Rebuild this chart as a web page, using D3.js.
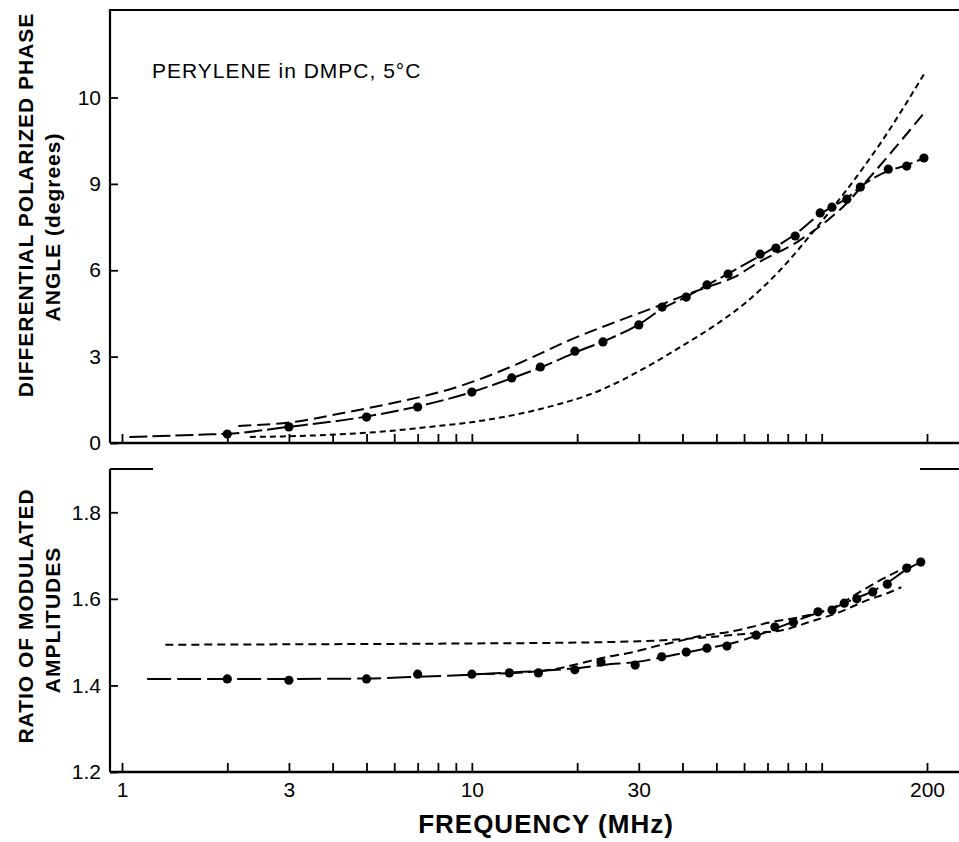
<!DOCTYPE html>
<html lang="en">
<head>
<meta charset="UTF-8">
<title>Perylene in DMPC, 5°C</title>
<script src="https://d3js.org/d3.v7.min.js"></script>
<style>
    html,body{margin:0;padding:0;background:#fff;}
    svg{display:block;}
    text{font-family:"Liberation Sans",Arial,sans-serif;fill:#000;}
</style>
</head>
<body>
<div id="chart"></div>
<script>
// x axis (MHz, log)
const freqTicks = [1,2,3,4,5,6,7,8,9,10,20,30,40,50,60,70,80,90,100,200];
const freqLabelTicks = [1,3,10,30,200];
const freqLabels = ["1","3","10","30","200"];

// y axis ticks (labels as printed)
const phaseTicks = [0,3,6,9,12];
const phaseTickLabels = ["0","3","6","9","10"];
const ratioTicks = [1.2,1.4,1.6,1.8];
const ratioTickLabels = ["1.2","1.4","1.6","1.8"];

// top panel: measured phase angle (degrees)
const phaseFreq = [2,3,5,7,10,13,15.7,19.7,23.7,30,35,41,47,54,66.7,74,84,99,107,118,129,155,175,196];
const phaseDeg  = [0.31,0.56,0.90,1.25,1.77,2.26,2.64,3.19,3.51,4.10,4.72,5.07,5.49,5.87,6.56,6.77,7.19,7.99,8.19,8.47,8.89,9.51,9.62,9.90];

// top panel: curve through the points
const phaseFitFreq = [1.05,1.8,2,3,5,7,10,13,16,20,24,30,35,41,47,54,67,74,84,99,107,118,129,155,175,196];
const phaseFitDeg  = [0.21,0.30,0.32,0.56,0.92,1.27,1.77,2.25,2.66,3.17,3.55,4.12,4.66,5.08,5.48,5.88,6.52,6.82,7.25,7.95,8.20,8.50,8.90,9.45,9.65,9.90];

// top panel: long dashed curve
const phaseAFreq = [2.15,3.17,4.28,5.95,8.28,11,13.7,19.1,26.6,32.3,40,48,56,65.4,85,104,115,135,160,196];
const phaseADeg  = [0.59,0.75,1.04,1.39,1.80,2.30,2.78,3.58,4.27,4.65,5.10,5.45,5.75,6.25,6.98,7.74,8.20,9.13,10.17,11.46];

// top panel: short dashed curve
const phaseCFreq = [2.32,2.88,3.85,5.35,7.45,11,15.7,23.7,29.6,39.4,49,61,76,94,118,147,197];
const phaseCDeg  = [0.21,0.23,0.28,0.38,0.55,0.80,1.18,1.87,2.45,3.33,4.05,4.90,6.00,7.30,8.80,10.40,12.85];

// bottom panel: measured ratio of modulated amplitudes
const ratioFreq = [2,3,5,7,10,12.8,15.5,19.7,23.4,29.3,34.9,41,47,53.6,65,73.5,83,97.6,107,116,126,140,154,175,192];
const ratioVal  = [1.415,1.412,1.415,1.426,1.426,1.429,1.429,1.436,1.454,1.447,1.466,1.477,1.486,1.491,1.516,1.535,1.546,1.570,1.574,1.590,1.600,1.616,1.634,1.671,1.685];

// bottom panel: curve through the points
const ratioFitFreq = [1.18,2,3,5,7,10,13,16,20,24,30,35,41,47,54,65,74,83,98,107,116,126,140,154,175,192];
const ratioFitVal  = [1.415,1.415,1.415,1.416,1.420,1.425,1.430,1.434,1.440,1.448,1.455,1.465,1.476,1.486,1.495,1.515,1.532,1.547,1.568,1.577,1.590,1.602,1.618,1.637,1.668,1.685];

// bottom panel: medium dashed curve
const ratioAFreq = [10,14,17.1,20.4,24.4,28.9,33,39.4,44.9,54.7,64.5,69.6,86.7,108,131,147,168,185];
const ratioAVal  = [1.426,1.430,1.437,1.451,1.466,1.477,1.489,1.503,1.514,1.524,1.537,1.544,1.558,1.580,1.620,1.643,1.667,1.683];

// bottom panel: short dashed curve
const ratioCFreq = [1.33,3,10,20,30,40,50,60,77.6,92.7,113,135,154,169];
const ratioCVal  = [1.494,1.495,1.497,1.499,1.502,1.507,1.513,1.519,1.528,1.547,1.570,1.597,1.613,1.627];

const W = 959, H = 842;
const frameL = 110, frameR = 959;

const svg = d3.select("#chart").append("svg")
    .attr("width", W).attr("height", H);

const x = d3.scaleLog().domain([1,200]).range([122,927]);
const yPhase = d3.scaleLinear().domain([0,15.04]).range([443,10]);
const yRatio = d3.scaleLinear().domain([1.2,1.9]).range([772,469]);

function zip(fs, vs){ return fs.map((f,i)=>[f, vs[i]]); }

function drawCurve(g, y, fs, vs, dash){
    const line = d3.line()
        .x(d=>x(d[0])).y(d=>y(d[1]))
        .curve(d3.curveMonotoneX);
    g.append("path")
        .attr("d", line(zip(fs,vs)))
        .attr("fill","none")
        .attr("stroke","#000")
        .attr("stroke-width",2)
        .attr("stroke-dasharray",dash);
}

function drawDots(g, y, fs, vs){
    g.selectAll("circle.pt").data(zip(fs,vs)).enter()
        .append("circle").attr("class","pt")
        .attr("cx",d=>x(d[0])).attr("cy",d=>y(d[1]))
        .attr("r",4.6).attr("fill","#000");
}

function styleAxis(g){
    g.select(".domain").remove();
    g.selectAll("line").attr("stroke","#000").attr("stroke-width",1.8);
    g.selectAll("text").attr("font-size",21).attr("fill","#000")
        .attr("font-family",'"Liberation Sans",Arial,sans-serif');
}

// ---------- top panel ----------
const topPanel = svg.append("g");
const yT0 = yPhase.range()[0], yT1 = yPhase.range()[1];

topPanel.append("path")
    .attr("d", "M"+frameL+","+yT0+"V"+yT1+"H"+frameR)
    .attr("fill","none").attr("stroke","#000").attr("stroke-width",2.2);
topPanel.append("line")
    .attr("x1",frameL).attr("x2",frameR).attr("y1",yT0).attr("y2",yT0)
    .attr("stroke","#000").attr("stroke-width",2.4);

topPanel.append("g").attr("transform","translate(0,"+yT0+")")
    .call(d3.axisBottom(x).tickValues(freqTicks).tickFormat("").tickSizeInner(-9).tickSizeOuter(0))
    .call(styleAxis);
topPanel.append("g").attr("transform","translate("+frameL+",0)")
    .call(d3.axisLeft(yPhase).tickValues(phaseTicks)
        .tickFormat((d,i)=>phaseTickLabels[i]).tickSizeInner(-8).tickSizeOuter(0).tickPadding(9))
    .call(styleAxis);

drawCurve(topPanel, yPhase, phaseCFreq, phaseCDeg, "6,4");
drawCurve(topPanel, yPhase, phaseAFreq, phaseADeg, "13,6");
drawCurve(topPanel, yPhase, phaseFitFreq, phaseFitDeg, "18,5");
drawDots(topPanel, yPhase, phaseFreq, phaseDeg);

topPanel.append("text")
    .attr("x",152).attr("y",78)
    .attr("font-size",21).attr("letter-spacing",1)
    .text("PERYLENE in DMPC, 5°C");

topPanel.append("text")
    .attr("transform","translate(33,205) rotate(-90)")
    .attr("text-anchor","middle").attr("font-size",21).attr("font-weight","bold")
    .attr("letter-spacing",1)
    .text("DIFFERENTIAL POLARIZED PHASE");
topPanel.append("text")
    .attr("transform","translate(60,227) rotate(-90)")
    .attr("text-anchor","middle").attr("font-size",21).attr("font-weight","bold")
    .attr("letter-spacing",1)
    .text("ANGLE (degrees)");

// ---------- bottom panel ----------
const botPanel = svg.append("g");
const yB0 = yRatio.range()[0], yB1 = yRatio.range()[1];

botPanel.append("line")
    .attr("x1",frameL).attr("x2",frameL).attr("y1",yB1).attr("y2",yB0)
    .attr("stroke","#000").attr("stroke-width",2.2);
botPanel.append("line")
    .attr("x1",frameL).attr("x2",frameR).attr("y1",yB0).attr("y2",yB0)
    .attr("stroke","#000").attr("stroke-width",2.4);
// broken top border
botPanel.append("line")
    .attr("x1",frameL).attr("x2",153).attr("y1",yB1).attr("y2",yB1)
    .attr("stroke","#000").attr("stroke-width",2.2);
botPanel.append("line")
    .attr("x1",920).attr("x2",frameR).attr("y1",yB1).attr("y2",yB1)
    .attr("stroke","#000").attr("stroke-width",2.2);

botPanel.append("g").attr("transform","translate(0,"+yB0+")")
    .call(d3.axisBottom(x).tickValues(freqTicks)
        .tickFormat(d=>{ const i = freqLabelTicks.indexOf(d); return i<0 ? "" : freqLabels[i]; })
        .tickSizeInner(-9).tickSizeOuter(0).tickPadding(10))
    .call(styleAxis);
botPanel.append("g").attr("transform","translate("+frameL+",0)")
    .call(d3.axisLeft(yRatio).tickValues(ratioTicks)
        .tickFormat((d,i)=>ratioTickLabels[i]).tickSizeInner(-8).tickSizeOuter(0).tickPadding(9))
    .call(styleAxis);

drawCurve(botPanel, yRatio, ratioCFreq, ratioCVal, "8,5");
drawCurve(botPanel, yRatio, ratioAFreq, ratioAVal, "9,5");
drawCurve(botPanel, yRatio, ratioFitFreq, ratioFitVal, "24,6");
drawDots(botPanel, yRatio, ratioFreq, ratioVal);

botPanel.append("text")
    .attr("transform","translate(33,616) rotate(-90)")
    .attr("text-anchor","middle").attr("font-size",21).attr("font-weight","bold")
    .attr("letter-spacing",1)
    .text("RATIO OF MODULATED");
botPanel.append("text")
    .attr("transform","translate(60,620) rotate(-90)")
    .attr("text-anchor","middle").attr("font-size",21).attr("font-weight","bold")
    .attr("letter-spacing",1)
    .text("AMPLITUDES");

svg.append("text")
    .attr("x",546).attr("y",833)
    .attr("text-anchor","middle").attr("font-size",26).attr("font-weight","bold")
    .attr("letter-spacing",1)
    .text("FREQUENCY (MHz)");
</script>
</body>
</html>
